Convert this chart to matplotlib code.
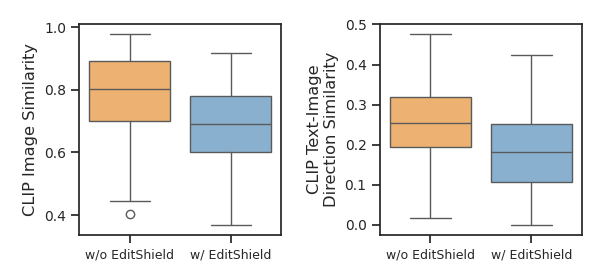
import matplotlib
matplotlib.use("Agg")
import matplotlib.pyplot as plt
import seaborn as sns

sns.set_theme(style="ticks")
plt.rcParams['font.family'] = ['DejaVu Sans']

groups = ["w/o EditShield", "w/ EditShield"]
colors = ["#EDB272", "#8AB0CF"]

# box stats: (whislo, q1, median, q3, whishi)
img_stats = [(0.444, 0.700, 0.804, 0.892, 0.980), (0.367, 0.602, 0.692, 0.780, 0.917)]
img_fliers = [[0.402], []]
dir_stats = [(0.017, 0.194, 0.255, 0.319, 0.477), (-0.001, 0.108, 0.183, 0.252, 0.425)]
dir_fliers = [[], []]


def MakeStats(stats, fliers):
    out = []
    for (lo, q1, med, q3, hi), fl in zip(stats, fliers):
        out.append(dict(whislo=lo, q1=q1, med=med, q3=q3, whishi=hi, fliers=fl))
    return out


def DrawBox(ax, stats, fliers, ylabel):
    line = dict(color="#5a5a5a", linewidth=1.0)
    bp = ax.bxp(MakeStats(stats, fliers), positions=[0, 1], widths=0.8,
                patch_artist=True, showfliers=True,
                boxprops=dict(edgecolor="#5a5a5a", linewidth=1.0),
                medianprops=line, whiskerprops=line, capprops=line,
                flierprops=dict(marker="o", markerfacecolor="none",
                                markeredgecolor="#5a5a5a", markersize=6))
    for patch, c in zip(bp["boxes"], colors):
        patch.set_facecolor(c)
    for cap in bp["caps"]:
        m = cap.get_xdata().mean()
        cap.set_xdata([m - 0.2, m + 0.2])
    ax.set_xlim(-0.5, 1.5)
    ax.set_xticks([0, 1])
    ax.set_xticklabels(groups, fontsize=9)
    ax.tick_params(axis="y", labelsize=10)
    ax.set_ylabel(ylabel, fontsize=11.7)


fig = plt.figure(figsize=(6, 2.8), dpi=100)
ax1 = fig.add_axes([0.132, 0.161, 0.337, 0.753])
ax2 = fig.add_axes([0.633, 0.161, 0.337, 0.753])
DrawBox(ax1, img_stats, img_fliers, "CLIP Image Similarity")
ax1.set_yticks([0.4, 0.6, 0.8, 1.0])
DrawBox(ax2, dir_stats, dir_fliers, "CLIP Text-Image\nDirection Similarity")
ax2.set_yticks([0.0, 0.1, 0.2, 0.3, 0.4, 0.5])
fig.savefig("out.png", dpi=100)
